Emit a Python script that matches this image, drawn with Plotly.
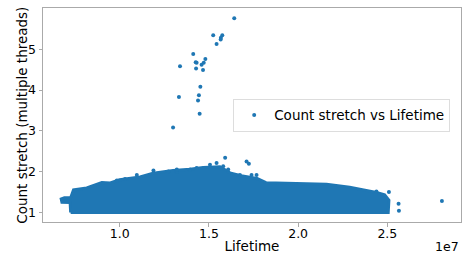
import plotly.graph_objects as go

# Outline of the dense body of points (Lifetime in units of 1e7, Count stretch)
blob_x = [0.725, 0.722, 0.676, 0.672, 0.690, 0.725, 0.741, 0.815, 0.900, 0.947, 1.000,
          1.114, 1.187, 1.299, 1.394, 1.467, 1.562, 1.618, 1.680, 1.770, 1.820, 1.900,
          2.050, 2.159, 2.289, 2.383, 2.439, 2.485, 2.509, 2.505, 2.400, 2.000, 1.500,
          1.000, 0.725]
blob_y = [1.00, 1.245, 1.25, 1.33, 1.36, 1.36, 1.55, 1.60, 1.73, 1.72, 1.80,
          1.87, 1.96, 2.03, 2.06, 2.10, 2.12, 1.97, 1.90, 1.83, 1.73, 1.72,
          1.70, 1.69, 1.62, 1.54, 1.49, 1.43, 1.30, 1.00, 1.00, 1.00, 1.00,
          1.00, 1.00]

# Individually visible points (fringe and outliers)
pts_x = [1.642, 1.524, 1.575, 1.567, 1.566, 1.543, 1.412, 1.426, 1.431, 1.480,
         1.471, 1.459, 1.338, 1.428, 1.467, 1.452, 1.332, 1.444, 1.439, 1.448,
         1.299,
         1.591, 1.711, 1.724, 1.674, 1.767, 1.739, 1.506, 1.543, 1.431, 1.320,
         1.394, 1.580, 1.608, 1.189, 1.096, 0.984, 1.030, 1.273, 1.320,
         2.509, 2.439, 2.563, 2.565, 2.806]
pts_y = [5.76, 5.34, 5.34, 5.28, 5.24, 5.13, 4.88, 4.68, 4.67, 4.76,
         4.67, 4.62, 4.58, 4.53, 4.49, 4.08, 3.83, 3.87, 3.74, 3.42,
         3.08,
         2.34, 2.25, 2.19, 1.92, 1.92, 1.92, 2.17, 2.21, 2.09, 2.00,
         2.05, 2.13, 2.05, 2.03, 1.92, 1.78, 1.82, 2.00, 2.05,
         1.50, 1.51, 1.21, 1.04, 1.28]

x_ticks = [1.0, 1.5, 2.0, 2.5]
y_ticks = [1, 2, 3, 4, 5]

C = "#1f77b4"
FONT = "DejaVu Sans"

fig = go.Figure()
fig.add_trace(go.Scatter(
    x=blob_x, y=blob_y, mode="lines", fill="toself", fillcolor=C,
    line=dict(color=C, width=3), showlegend=False, hoverinfo="skip"))
fig.add_trace(go.Scatter(
    x=pts_x, y=pts_y, mode="markers", name="Count stretch vs Lifetime",
    marker=dict(color=C, size=4, line=dict(width=0))))

fig.update_layout(
    width=463, height=256,
    margin=dict(l=43, r=2, t=8, b=34),
    paper_bgcolor="white", plot_bgcolor="white",
    font=dict(family=FONT, size=12.5, color="black"),
    legend=dict(x=0.455, y=0.576, xanchor="left", yanchor="top",
                bgcolor="rgba(255,255,255,0.8)", bordercolor="#dddddd",
                borderwidth=1, font=dict(size=13.5, family=FONT)),
    xaxis=dict(range=[0.570, 2.913], tickvals=x_ticks,
               ticktext=[f"{v:.1f}" for v in x_ticks],
               showgrid=False, zeroline=False, showline=True, mirror=True,
               linecolor="#aaaaaa", linewidth=1, ticks="outside", ticklen=3.5,
               tickcolor="#aaaaaa", automargin=False, ticklabelstandoff=-4,
               title=dict(text="Lifetime", font=dict(size=13.5), standoff=2)),
    yaxis=dict(range=[0.765, 6.01], tickvals=y_ticks,
               ticktext=[str(v) for v in y_ticks],
               showgrid=False, zeroline=False, showline=True, mirror=True,
               linecolor="#aaaaaa", linewidth=1, ticks="outside", ticklen=3.5,
               tickcolor="#aaaaaa", automargin=False),
    annotations=[
        dict(text="1e7", xref="paper", yref="paper", x=1.0, y=-0.115,
             xanchor="right", yanchor="middle", showarrow=False,
             font=dict(size=12.5, family=FONT)),
        dict(text="Count stretch (multiple threads)", xref="paper", yref="paper",
             x=-0.051, y=0.5, xanchor="center", yanchor="middle", textangle=-90,
             showarrow=False, font=dict(size=13.5, family=FONT)),
    ],
)

fig.write_html("out.html", config={"displayModeBar": False},
               post_script="document.body.style.margin='0';document.body.style.overflow='hidden';")
